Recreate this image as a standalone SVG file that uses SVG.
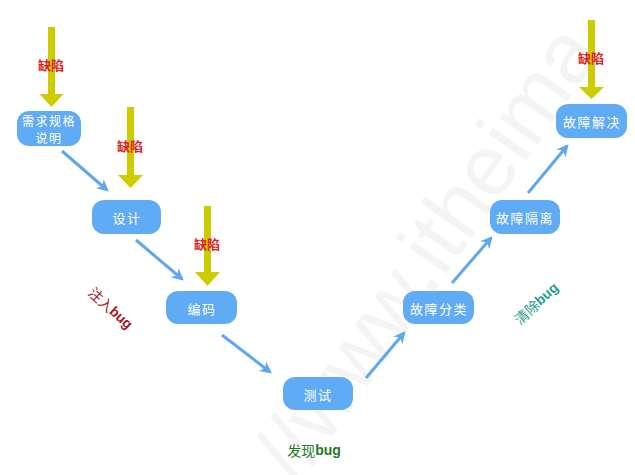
<svg xmlns="http://www.w3.org/2000/svg" width="635" height="475" viewBox="0 0 635 475">
<style>
.node rect{fill:#60abf5;}
.node text{fill:#ffffff;font-family:"Noto Sans CJK SC","Noto Sans",sans-serif;font-size:13px;letter-spacing:1.5px;text-anchor:middle;dominant-baseline:central;}
.conn line{stroke:#5ea8f0;stroke-width:3;fill:none;marker-end:url(#ah);}
.defect polygon{fill:#cccc00;}
.defect text{fill:#e01e1e;font-family:"Noto Sans CJK SC",sans-serif;font-size:13px;font-weight:bold;text-anchor:middle;dominant-baseline:central;}
.lbl{font-family:"Noto Sans CJK SC",sans-serif;font-size:14px;text-anchor:middle;dominant-baseline:central;}
.lbl tspan.b{font-family:"Liberation Sans",sans-serif;font-weight:bold;}
</style>
<defs>
<marker id="ah" viewBox="0 0 10 10" refX="8" refY="5" markerWidth="4" markerHeight="4" orient="auto" markerUnits="strokeWidth">
<path d="M0,0 L10,5 L0,10 L3,5 Z" fill="#5ea8f0"/>
</marker>
</defs>
<rect width="635" height="475" fill="#ffffff"/>
<text transform="translate(298,486) rotate(-55)" font-family="Liberation Sans, sans-serif" font-size="86" fill="#f4f4f4">//www.itheima</text>
<g id="connectors" class="conn">
<line x1="62" y1="151" x2="107" y2="190"/>
<line x1="136" y1="240" x2="182" y2="279"/>
<line x1="222" y1="335" x2="270" y2="372"/>
<line x1="366" y1="378" x2="404" y2="333"/>
<line x1="452" y1="283" x2="491" y2="238"/>
<line x1="528" y1="193" x2="567" y2="146"/>
</g>
<g id="node-req" class="node"><rect x="17" y="111" width="64" height="35" rx="12"/><text x="49" y="120" style="font-size:12px">需求规格</text><text x="49" y="137.5" style="font-size:12px">说明</text></g>
<g id="node-design" class="node"><rect x="92" y="200" width="69" height="34" rx="12"/><text x="127" y="217">设计</text></g>
<g id="node-code" class="node"><rect x="166" y="291" width="71" height="33" rx="12"/><text x="202" y="308">编码</text></g>
<g id="node-test" class="node"><rect x="283" y="377" width="70" height="33" rx="12"/><text x="318" y="394">测试</text></g>
<g id="node-classify" class="node"><rect x="403" y="291" width="71" height="33" rx="12"/><text x="439" y="308">故障分类</text></g>
<g id="node-isolate" class="node"><rect x="490" y="200" width="70" height="34" rx="12"/><text x="525" y="217">故障隔离</text></g>
<g id="node-resolve" class="node"><rect x="556" y="104" width="71" height="34" rx="12"/><text x="592" y="121">故障解决</text></g>
<g id="defects" class="defect">
<polygon points="48,27 55,27 55,94 63.5,94 51.5,107 39.5,94 48,94"/>
<polygon points="127,107 134,107 134,175 143,175 130.5,188 118,175 127,175"/>
<polygon points="204,206 211,206 211,272 220,272 207.5,286 195,272 204,272"/>
<polygon points="588,20 595,20 595,87 604,87 591.5,99 579,87 588,87"/>
<text x="51" y="64">缺陷</text>
<text x="130" y="145">缺陷</text>
<text x="207" y="243">缺陷</text>
<text x="591" y="57">缺陷</text>
</g>
<text class="lbl" fill="#a3171f" transform="translate(111,308) rotate(43)">注入<tspan class="b">bug</tspan></text>
<text class="lbl" fill="#1f7a1f" x="314" y="450">发现<tspan class="b">bug</tspan></text>
<text class="lbl" fill="#1fa08c" transform="translate(536,303) rotate(-42)">清除<tspan class="b">bug</tspan></text>
</svg>
